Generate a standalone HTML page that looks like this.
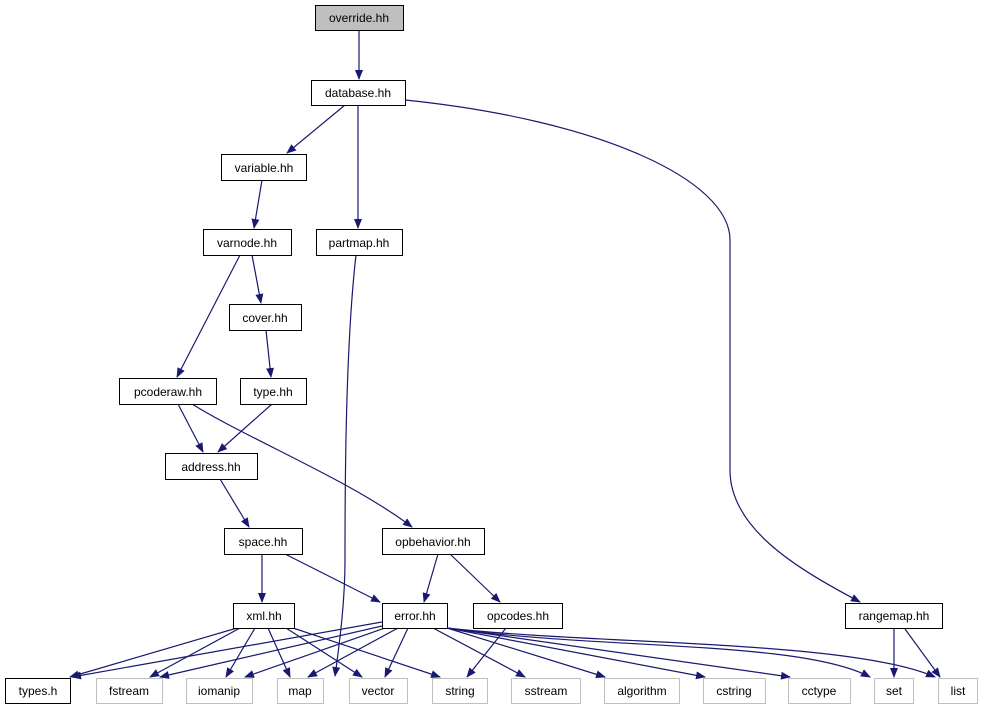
<!DOCTYPE html>
<html><head><meta charset="utf-8"><style>
body{margin:0;background:#fff}
svg text{font-family:"Liberation Sans",sans-serif;font-size:12px;text-anchor:middle}
</style></head><body>
<svg width="983" height="709" viewBox="0 0 983 709" xmlns="http://www.w3.org/2000/svg">
<defs><marker id="a" markerWidth="10" markerHeight="8" refX="9" refY="4" orient="auto" markerUnits="userSpaceOnUse"><path d="M0,0L10,4L0,8z" fill="#191970"/></marker></defs>
<g stroke="#191970" stroke-width="1.2" fill="none" marker-end="url(#a)">
<path d="M359,30V79"/>
<path d="M345,105L287,153"/>
<path d="M358,105V228"/>
<path d="M405,100C600,120 730,180 730,240V470C730,530 800,570 860,602"/>
<path d="M262,180L254,228"/>
<path d="M252,255L261,303"/>
<path d="M240,255L177,377"/>
<path d="M356,255C345,350 345,500 345,560C345,600 340,640 335,676"/>
<path d="M266,330L271,377"/>
<path d="M178,404L203,452"/>
<path d="M272,404L218,452"/>
<path d="M192,404C250,440 350,480 412,527"/>
<path d="M220,479L249,527"/>
<path d="M262,554V602"/>
<path d="M285,554L380,602"/>
<path d="M438,554L424,602"/>
<path d="M450,554L500,602"/>
<path d="M237,628L70,677"/>
<path d="M240,628L150,677"/>
<path d="M255,628L226,677"/>
<path d="M268,628L290,677"/>
<path d="M286,628L362,677"/>
<path d="M293,628L440,677"/>
<path d="M382,622L72,677"/>
<path d="M382,626L160,677"/>
<path d="M385,628L245,677"/>
<path d="M398,628L308,677"/>
<path d="M408,628L385,677"/>
<path d="M433,628L525,677"/>
<path d="M447,628L605,677"/>
<path d="M447,628L705,677"/>
<path d="M447,628L790,677"/>
<path d="M447,628C600,650 800,640 870,677"/>
<path d="M447,628C600,645 850,640 935,677"/>
<path d="M506,628L467,677"/>
<path d="M894,629V677"/>
<path d="M905,629L940,677"/>
</g>
<g stroke-width="1">
<rect x="315.5" y="5.5" width="88" height="25" fill="#bfbfbf" stroke="#000"/>
<g fill="#fff" stroke="#000">
<rect x="311.5" y="80.5" width="94" height="25"/>
<rect x="221.5" y="154.5" width="85" height="26"/>
<rect x="316.5" y="229.5" width="86" height="26"/>
<rect x="203.5" y="229.5" width="88" height="26"/>
<rect x="229.5" y="304.5" width="72" height="26"/>
<rect x="119.5" y="378.5" width="97" height="26"/>
<rect x="240.5" y="378.5" width="66" height="26"/>
<rect x="165.5" y="453.5" width="92" height="26"/>
<rect x="224.5" y="528.5" width="78" height="26"/>
<rect x="382.5" y="528.5" width="102" height="26"/>
<rect x="233.5" y="603.5" width="61" height="25"/>
<rect x="382.5" y="603.5" width="65" height="25"/>
<rect x="473.5" y="603.5" width="89" height="25"/>
<rect x="845.5" y="603.5" width="97" height="25"/>
<rect x="5.5" y="678.5" width="65" height="25"/>
</g>
<g fill="#fff" stroke="#bfbfbf">
<rect x="96.5" y="678.5" width="66" height="25"/>
<rect x="186.5" y="678.5" width="66" height="25"/>
<rect x="277.5" y="678.5" width="46" height="25"/>
<rect x="349.5" y="678.5" width="58" height="25"/>
<rect x="432.5" y="678.5" width="55" height="25"/>
<rect x="511.5" y="678.5" width="69" height="25"/>
<rect x="604.5" y="678.5" width="75" height="25"/>
<rect x="703.5" y="678.5" width="62" height="25"/>
<rect x="788.5" y="678.5" width="62" height="25"/>
<rect x="874.5" y="678.5" width="39" height="25"/>
<rect x="938.5" y="678.5" width="39" height="25"/>
</g>
</g>
<g fill="#000">
<text x="359" y="22">override.hh</text>
<text x="358" y="97">database.hh</text>
<text x="264" y="172">variable.hh</text>
<text x="359" y="247">partmap.hh</text>
<text x="247" y="247">varnode.hh</text>
<text x="265" y="322">cover.hh</text>
<text x="168" y="396">pcoderaw.hh</text>
<text x="273" y="396">type.hh</text>
<text x="211" y="471">address.hh</text>
<text x="263" y="546">space.hh</text>
<text x="433" y="546">opbehavior.hh</text>
<text x="264" y="620">xml.hh</text>
<text x="415" y="620">error.hh</text>
<text x="518" y="620">opcodes.hh</text>
<text x="894" y="620">rangemap.hh</text>
<text x="38" y="695">types.h</text>
<text x="129" y="695">fstream</text>
<text x="219" y="695">iomanip</text>
<text x="300" y="695">map</text>
<text x="378" y="695">vector</text>
<text x="460" y="695">string</text>
<text x="546" y="695">sstream</text>
<text x="642" y="695">algorithm</text>
<text x="734" y="695">cstring</text>
<text x="819" y="695">cctype</text>
<text x="894" y="695">set</text>
<text x="958" y="695">list</text>
</g>
</svg>
</body></html>
